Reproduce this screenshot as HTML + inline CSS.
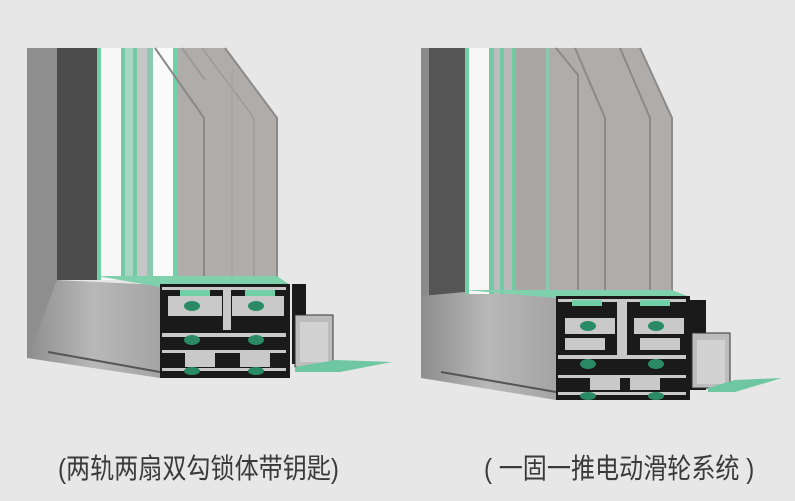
<!DOCTYPE html>
<html><head><meta charset="utf-8"><style>
html,body{margin:0;padding:0;background:#e7e7e7;}
#c{position:relative;width:795px;height:501px;overflow:hidden;background:#e7e7e7;}
.t{position:absolute;top:447px;font-family:"Liberation Sans","Noto Sans CJK SC",sans-serif;font-size:28px;color:#3a3a3a;white-space:nowrap;transform-origin:left top;transform:scaleX(0.86);}
</style></head><body><div id="c">
<svg width="795" height="501" viewBox="0 0 795 501" style="position:absolute;left:0;top:0">
<defs>
<linearGradient id="sill" x1="0" y1="0" x2="1" y2="0"><stop offset="0" stop-color="#8d8d8d"/><stop offset="0.5" stop-color="#b8b8b8"/><stop offset="1" stop-color="#a4a4a4"/></linearGradient>
<linearGradient id="glass" x1="0" y1="0" x2="1" y2="0"><stop offset="0" stop-color="#b8b4b2"/><stop offset="1" stop-color="#a9a5a3"/></linearGradient>
</defs>
<!-- LEFT -->
<g>
<rect x="27" y="48" width="30" height="310" fill="#8a8a8a"/>
<rect x="57" y="48" width="40" height="232" fill="#4c4c4c"/>
<polygon points="27,358 57,280 160,285 160,378" fill="url(#sill)"/>
<polygon points="27,48 57,48 57,280 27,358" fill="#8e8e8e"/>
<line x1="48" y1="352" x2="160" y2="372" stroke="#555" stroke-width="2"/>
<rect x="97" y="48" width="180" height="232" fill="#b0acaa"/>
<polygon points="225,48 278,48 278,118" fill="#e7e7e7"/>
<rect x="97" y="48" width="4" height="232" fill="#6fd0a8"/>
<rect x="101" y="48" width="20" height="232" fill="#f7f7f7"/>
<rect x="121" y="48" width="4" height="232" fill="#74c9a5"/>
<rect x="125" y="48" width="8" height="232" fill="#a8d6c2"/>
<rect x="133" y="48" width="4" height="232" fill="#74c9a5"/>
<rect x="137" y="48" width="10" height="232" fill="#c6c6c6"/>
<rect x="147" y="48" width="6" height="232" fill="#8dc9b1"/>
<rect x="153" y="48" width="20" height="232" fill="#fafafa"/>
<rect x="173" y="48" width="5" height="232" fill="#6fd0a8"/>
<polyline points="155,48 204,118 204,280" fill="none" stroke="#8a8a8a" stroke-width="2"/>
<polyline points="182,48 205,80" fill="none" stroke="#9a9a9a" stroke-width="2"/>
<polyline points="225,48 277,118 277,280" fill="none" stroke="#8a8a8a" stroke-width="2"/>
<polyline points="202,48 254,118 254,280" fill="none" stroke="#9a9a9a" stroke-width="1.5"/>
<line x1="232" y1="70" x2="232" y2="280" stroke="#a0a0a0"/>
<polygon points="97,276 277,276 290,285 160,287" fill="#7fd1ac"/>
<rect x="160" y="284" width="130" height="94" fill="#1a1a1a"/>
<g fill="#c9c9c9">
<rect x="162" y="287" width="124" height="3"/>
<rect x="168" y="296" width="54" height="20"/><rect x="232" y="296" width="52" height="20"/>
<rect x="223" y="290" width="8" height="40"/>
<rect x="162" y="333" width="124" height="4"/>
<rect x="162" y="350" width="124" height="3"/>
<rect x="162" y="368" width="124" height="3"/>
<rect x="185" y="353" width="30" height="14"/><rect x="240" y="353" width="30" height="14"/>
</g>
<g fill="#2a8a66"><ellipse cx="192" cy="306" rx="8" ry="5"/><ellipse cx="256" cy="306" rx="8" ry="5"/><ellipse cx="192" cy="340" rx="8" ry="5"/><ellipse cx="256" cy="340" rx="8" ry="5"/><ellipse cx="192" cy="371" rx="8" ry="4"/><ellipse cx="256" cy="371" rx="8" ry="4"/></g>
<rect x="180" y="290" width="30" height="6" fill="#6fd0a8"/><rect x="245" y="290" width="30" height="6" fill="#6fd0a8"/>
<rect x="292" y="284" width="14" height="80" fill="#1a1a1a"/>
<rect x="295" y="315" width="38" height="52" fill="#bdbdbd" stroke="#333"/>
<rect x="300" y="322" width="28" height="40" fill="#d2d2d2"/>
<polygon points="295,367 335,360 392,362 340,372 295,372" fill="#6fc7a2"/>
</g>
<!-- RIGHT -->
<g>
<rect x="421" y="48" width="44" height="248" fill="#555"/>
<rect x="421" y="48" width="8" height="248" fill="#8a8a8a"/>
<polygon points="421,296 465,292 556,296 556,400 421,378" fill="url(#sill)"/>
<line x1="441" y1="372" x2="556" y2="392" stroke="#555" stroke-width="2"/>
<rect x="465" y="48" width="207" height="246" fill="#b0acaa"/>
<polygon points="640,48 673,48 673,118" fill="#e7e7e7"/>
<rect x="465" y="48" width="4" height="246" fill="#6fd0a8"/>
<rect x="469" y="48" width="20" height="246" fill="#f7f7f7"/>
<rect x="489" y="48" width="5" height="246" fill="#74c9a5"/>
<rect x="494" y="48" width="6" height="246" fill="#bcbcbc"/>
<rect x="500" y="48" width="4" height="246" fill="#74c9a5"/>
<rect x="504" y="48" width="8" height="246" fill="#b9b9b9"/>
<rect x="512" y="48" width="4" height="246" fill="#74c9a5"/>
<rect x="516" y="48" width="30" height="246" fill="#aaa6a4"/>
<rect x="546" y="48" width="3" height="246" fill="#8dc9b1"/>
<polyline points="556,48 578,75 578,294" fill="none" stroke="#8a8a8a" stroke-width="2"/>
<polyline points="575,48 605,118 605,294" fill="none" stroke="#8a8a8a" stroke-width="2"/>
<polyline points="620,48 650,118 650,294" fill="none" stroke="#8a8a8a" stroke-width="2"/>
<polyline points="640,48 672,118 672,294" fill="none" stroke="#8a8a8a" stroke-width="2"/>
<polygon points="465,290 672,290 690,297 556,298" fill="#7fd1ac"/>
<rect x="556" y="296" width="134" height="104" fill="#1a1a1a"/>
<g fill="#c9c9c9">
<rect x="558" y="299" width="128" height="3"/>
<rect x="565" y="318" width="50" height="16"/><rect x="634" y="318" width="50" height="16"/>
<rect x="617" y="300" width="10" height="55"/>
<rect x="558" y="355" width="128" height="4"/>
<rect x="558" y="375" width="128" height="3"/>
<rect x="558" y="392" width="128" height="3"/>
<rect x="565" y="338" width="40" height="12"/><rect x="640" y="338" width="40" height="12"/>
<rect x="590" y="378" width="30" height="12"/><rect x="630" y="378" width="30" height="12"/>
</g>
<g fill="#2a8a66"><ellipse cx="588" cy="326" rx="8" ry="5"/><ellipse cx="656" cy="326" rx="8" ry="5"/><ellipse cx="588" cy="364" rx="8" ry="5"/><ellipse cx="656" cy="364" rx="8" ry="5"/><ellipse cx="588" cy="396" rx="8" ry="4"/><ellipse cx="656" cy="396" rx="8" ry="4"/></g>
<rect x="572" y="300" width="30" height="6" fill="#6fd0a8"/><rect x="640" y="300" width="30" height="6" fill="#6fd0a8"/>
<rect x="690" y="300" width="16" height="90" fill="#1a1a1a"/>
<rect x="692" y="333" width="38" height="55" fill="#bdbdbd" stroke="#333"/>
<rect x="697" y="340" width="28" height="44" fill="#d2d2d2"/>
<polygon points="708,388 735,380 782,378 735,392 708,392" fill="#6fc7a2"/>
</g>
</svg>
<div class="t" style="left:58px">(两轨两扇双勾锁体带钥匙)</div>
<div class="t" style="left:484px">( 一固一推电动滑轮系统 )</div>
</div></body></html>
